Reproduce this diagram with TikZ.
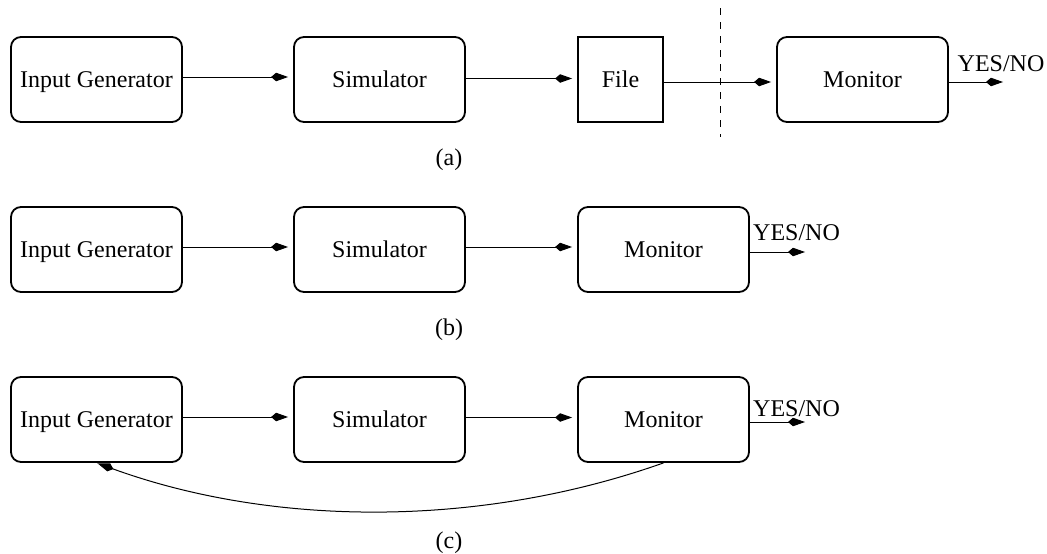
\documentclass[tikz,border=0pt]{standalone}
\usepackage{fontspec}
\setmainfont{Liberation Serif}
\usetikzlibrary{arrows.meta}
\begin{document}
\begin{tikzpicture}[x=1pt,y=-1pt,
  every node/.style={font=\fontsize{24}{26}\selectfont},
  box/.style={draw, line width=1.8pt, rounded corners=10pt, minimum width=171pt, minimum height=85pt, inner sep=0pt, text depth=0pt},
  filebox/.style={draw, line width=1.8pt, minimum width=85pt, minimum height=85pt, inner sep=0pt},
  tip/.style={-{Kite[length=17pt, width=8.5pt, inset=5pt]}},
  arr/.style={line width=1pt, tip, shorten >=5pt},
  outarr/.style={line width=1pt, tip},
  lbl/.style={inner sep=0pt}]
\useasboundingbox (0,0) rectangle (1047,554);
% row (a)
\node[box] (iga) at (96.5,79.5) {Input Generator\hspace{6pt}};
\node[box] (sima) at (379.5,79.5) {Simulator};
\node[filebox] (filea) at (620.5,79.5) {File};
\node[box] (mona) at (862.5,79.5) {Monitor};
\node[lbl] (yna) at (1001,64) {YES/NO};
\coordinate (ya) at (1003,82);
\coordinate (d1) at (720,8);
\coordinate (d2) at (720,137);
\draw[line width=1pt, dash pattern=on 7pt off 7pt] (d1) -- (d2);
\draw[arr] ([yshift=2.5pt]iga.east) -- ([yshift=2.5pt]sima.west);
\draw[arr] ([yshift=1pt]sima.east) -- ([yshift=1pt]filea.west);
\draw[arr] ([yshift=-2.5pt]filea.east) -- ([yshift=-2.5pt]mona.west);
\draw[outarr] (mona.east |- ya) -- (ya);
\node[lbl] (la) at (449,160) {(a)};
% row (b)
\node[box] (igb) at (96.5,249.5) {Input Generator\hspace{6pt}};
\node[box] (simb) at (379.5,249.5) {Simulator};
\node[box] (monb) at (663.5,249.5) {Monitor};
\node[lbl] (ynb) at (796.5,233) {YES/NO};
\coordinate (yb) at (805,252);
\draw[arr] ([yshift=2.5pt]igb.east) -- ([yshift=2.5pt]simb.west);
\draw[arr] ([yshift=2.5pt]simb.east) -- ([yshift=2.5pt]monb.west);
\draw[outarr] (monb.east |- yb) -- (yb);
\node[lbl] (lb) at (449,330) {(b)};
% row (c)
\node[box] (igc) at (96.5,419.5) {Input Generator\hspace{6pt}};
\node[box] (simc) at (379.5,419.5) {Simulator};
\node[box] (monc) at (663.5,419.5) {Monitor};
\node[lbl] (ync) at (796.5,409) {YES/NO};
\coordinate (yc) at (805,422);
\draw[arr] ([yshift=2.5pt]igc.east) -- ([yshift=2.5pt]simc.west);
\draw[arr] ([yshift=2pt]simc.east) -- ([yshift=2pt]monc.west);
\draw[outarr] (monc.east |- yc) -- (yc);
\draw[line width=1pt, tip, shorten >=1pt]
  (monc.south) .. controls (477,529) and (270,526) .. (igc.south);
\node[lbl] (lc) at (449,543) {(c)};
\end{tikzpicture}
\end{document}
